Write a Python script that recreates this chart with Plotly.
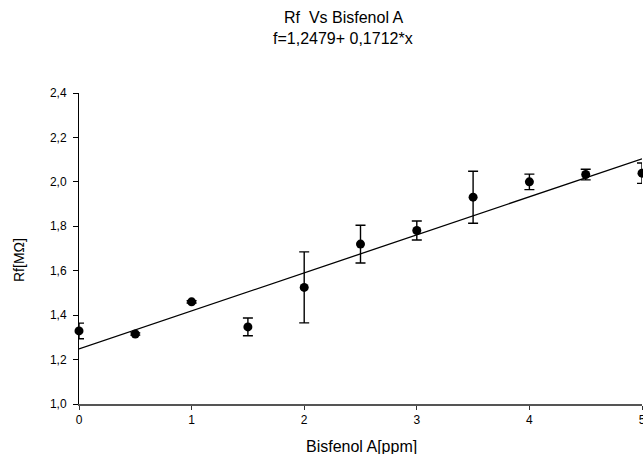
import plotly.graph_objects as go

# Data
x_ppm = [0, 0.5, 1, 1.5, 2, 2.5, 3, 3.5, 4, 4.5, 5]
rf_mohm = [1.329, 1.315, 1.460, 1.347, 1.525, 1.720, 1.781, 1.931, 2.000, 2.033, 2.039]
rf_err = [0.035, 0.005, 0.005, 0.040, 0.160, 0.085, 0.043, 0.117, 0.035, 0.024, 0.046]

intercept = 1.2479
slope = 0.1712
fit_x = [0, 5]
fit_y = [intercept + slope * v for v in fit_x]

y_ticks = [1.0, 1.2, 1.4, 1.6, 1.8, 2.0, 2.2, 2.4]
x_ticks = [0, 1, 2, 3, 4, 5]

FONT = "Liberation Sans, Arial, sans-serif"

PL, PT, PW, PH = 79, 93, 563, 311  # plot area in reference pixels
W, H = 643, 454

fig = go.Figure()
fig.add_trace(go.Scatter(
    x=fit_x, y=fit_y, mode="lines",
    line=dict(color="black", width=1.3),
    showlegend=False, hoverinfo="skip", cliponaxis=False))
fig.add_trace(go.Scatter(
    x=x_ppm, y=rf_mohm, mode="markers",
    marker=dict(color="black", size=9),
    error_y=dict(type="data", array=rf_err, visible=True,
                 color="black", thickness=1.4, width=5),
    showlegend=False, cliponaxis=False))

fig.update_layout(
    width=W, height=H,
    margin=dict(l=PL, r=W - PL - PW, t=PT, b=H - PT - PH, autoexpand=False),
    paper_bgcolor="white", plot_bgcolor="white",
    separators=",.",
    font=dict(family=FONT, color="black", size=12),
    showlegend=False,
)
fig.update_xaxes(
    range=[0, 5], tickvals=x_ticks, showgrid=False, zeroline=False,
    showline=True, linecolor="#555", linewidth=2,
    ticks="outside", ticklen=4, tickcolor="#333", tickwidth=1,
    tickfont=dict(size=12, family=FONT), ticklabeloverflow="allow",
)
fig.update_yaxes(
    range=[1.0, 2.4], tickvals=y_ticks, tickformat=".1f",
    showgrid=False, zeroline=False,
    showline=True, linecolor="black", linewidth=1,
    ticks="outside", ticklen=5, tickcolor="black", tickwidth=1,
    tickfont=dict(size=12, family=FONT), ticklabelstandoff=4,
)

def px(xp):
    return (xp - PL) / PW

def py(yp):
    return (PT + PH - yp) / PH

fig.add_annotation(text="Rf\u00a0 Vs Bisfenol A", xref="paper", yref="paper",
                   x=px(343), y=py(18), showarrow=False,
                   xanchor="center", yanchor="middle", font=dict(size=16, family=FONT))
fig.add_annotation(text="f=1,2479+ 0,1712*x", xref="paper", yref="paper",
                   x=px(343), y=py(38), showarrow=False,
                   xanchor="center", yanchor="middle", font=dict(size=16, family=FONT))
fig.add_annotation(text="Bisfenol A[ppm]", xref="paper", yref="paper",
                   x=px(361), y=py(446), showarrow=False,
                   xanchor="center", yanchor="middle", font=dict(size=16, family=FONT))
fig.add_annotation(text="Rf[MΩ]", xref="paper", yref="paper", textangle=-90,
                   x=px(19), y=py(260), showarrow=False,
                   xanchor="center", yanchor="middle", font=dict(size=14, family=FONT))

fig.write_html(
    "out.html",
    config={"displayModeBar": False},
    post_script="document.body.style.margin='0';document.body.style.overflow='hidden';",
)
